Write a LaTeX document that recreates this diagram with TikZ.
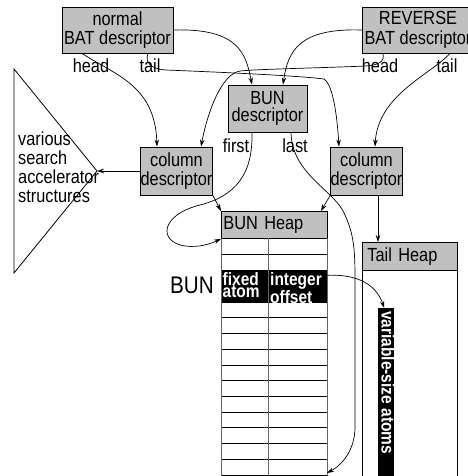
\documentclass[tikz,border=0pt]{standalone}
\usepackage{fontspec}
\setmainfont{Liberation Sans}[FakeStretch=0.86]
\usetikzlibrary{arrows.meta,calc}
\definecolor{boxgray}{RGB}{192,192,192}
\definecolor{rulegray}{RGB}{100,100,100}
\tikzset{
  lbl/.style={font=\fontsize{19}{19.5}\selectfont, inner sep=0pt},
  descbox/.style={draw, fill=boxgray, line width=0.9pt, inner sep=0pt,
    align=center, font=\fontsize{19}{19.5}\selectfont},
  heaphdr/.style={draw, fill=boxgray, line width=0.9pt, inner ysep=0pt,
    align=left, anchor=north west, font=\fontsize{19}{19.5}\selectfont},
  link/.style={line width=0.7pt, -{Stealth[length=7pt,width=4.5pt]}},
  rowline/.style={line width=0.8pt},
  colline/.style={line width=0.8pt, draw=rulegray},
  celltext/.style={text=white, font=\bfseries\fontsize{18}{12.5}\selectfont,
    align=left, inner sep=0pt, anchor=north west},
}
\begin{document}
\begin{tikzpicture}[x=1pt,y=-1pt]
\useasboundingbox (0,0) rectangle (467,476);

% descriptors
\node[descbox, minimum width=111pt, minimum height=46pt] (nbat) at (117.5,30) {normal\\BAT descriptor};
\node[descbox, minimum width=111pt, minimum height=46pt] (rbat) at (418,30) {REVERSE\\BAT descriptor};
\node[descbox, minimum width=79pt, minimum height=47pt, font=\fontsize{19}{17}\selectfont] (bund) at (267.5,108.5) {BUN\\descriptor};
\node[descbox, minimum width=71pt, minimum height=48pt] (coll) at (176.5,171) {column\\descriptor};
\node[descbox, minimum width=71pt, minimum height=48pt] (colr) at (366.5,171) {column\\descriptor};

% head / tail / first / last labels
\node[lbl, anchor=base] (nhead) at (91,73) {head};
\node[lbl, anchor=base] (ntail) at (150,73) {tail};
\node[lbl, anchor=base] (rhead) at (380,73) {head};
\node[lbl, anchor=base] (rtail) at (447,73) {tail};
\node[lbl, anchor=base] (lfirst) at (236,152) {first};
\node[lbl, anchor=base] (llast) at (295,152) {last};

% search accelerator triangle
\coordinate (apex) at (97,171);
\draw[line width=0.8pt] (14,69) -- (apex) -- (14,273) -- cycle;
\node[lbl, anchor=north west, align=left, font=\fontsize{19}{18.7}\selectfont] (accel) at (18,132)
  {various\\search\\accelerator\\structures};

% BUN heap
\node[heaphdr, inner xsep=2pt, text width=102pt, minimum height=27pt] (bunhdr) at (221,211) {BUN Heap};
\node[fill=black, inner sep=0pt, minimum width=106pt, minimum height=32pt, anchor=north west] (bunrow) at (221,270) {};
\foreach \yy in {254,270,302} \draw[rowline] (221,\yy) -- (327,\yy);
\foreach \k in {1,...,11} \draw[rowline] (221,{302+\k*15.73}) -- (327,{302+\k*15.73});
\foreach \xx in {221,268,327} \draw[colline] (\xx,238) -- (\xx,480);
\node[celltext] (fixed) at (222.5,272) {fixed\\atom};
\node[celltext] (offset) at (270,272) {integer\\offset};
\node[lbl, anchor=base east, font=\fontsize{24}{24}\selectfont] (bunlbl) at (214,293) {BUN};
\coordinate (heapend) at (327,473);

% tail heap
\node[heaphdr, inner xsep=5pt, text width=85pt, minimum height=28pt] (tailhdr) at (362,242) {Tail Heap};
\draw[line width=0.9pt] (362,270) -- (362,480) (457,270) -- (457,480);
\node[fill=black, inner sep=0pt, minimum width=16pt, minimum height=172pt, anchor=north west] (band) at (378,308) {};
\node[rotate=-90, anchor=base west, inner sep=0pt, text=white,
  font=\bfseries\fontsize{18}{18}\selectfont] (atoms) at (381.5,311) {variable-size atoms};

% connectors
\draw[link] (nbat.east) .. controls (240,28) and (246,55) .. ([xshift=-15.5pt]bund.north);
\draw[link] (rbat.west) .. controls (300,28) and (288,50) .. ([xshift=15.5pt]bund.north);
\draw[link] ([xshift=-35.5pt]nbat.south) .. controls (115,75) and (155,85) .. ([xshift=-19.5pt]coll.north);
\draw[link] ([xshift=30.5pt]nbat.south) .. controls (145,62) and (150,69) .. (166,70)
  .. controls (240,73) and (300,76) .. (324,79)
  .. controls (333,85) and (337,115) .. ([xshift=-27.5pt]colr.north);
\draw[link] ([xshift=-35pt]rbat.south) .. controls (385,62) and (378,65) .. (366,66)
  .. controls (320,68) and (260,69) .. (240,71)
  .. controls (222,74) and (208,110) .. ([xshift=24.5pt]coll.north);
\draw[link] ([xshift=32pt]rbat.south) .. controls (430,75) and (378,95) .. ([xshift=8.5pt]colr.north);
\draw[link] ([xshift=-15.5pt]bund.south) .. controls (253,175) and (235,196) .. (200,205)
  .. controls (160,215) and (158,242) .. (185,246)
  .. controls (200,248) and (212,243) .. (bunhdr.south west);
\draw[link] ([xshift=23.5pt]bund.south) .. controls (292,175) and (335,190) .. (345,215)
  .. controls (354,235) and (355,250) .. (355,280) -- (355,427)
  .. controls (355,450) and (342,465) .. (heapend);
\draw[link] (coll.west) -- (apex);
\draw[link] (coll.south east) -- (bunhdr.north west);
\draw[link] (colr.south west) -- ([xshift=-7pt]bunhdr.north east);
\draw[link] ([xshift=11.5pt]colr.south) -- ([xshift=11.5pt]colr.south |- tailhdr.north);
\draw[link] ([yshift=11pt]bunrow.east) .. controls (365,274) and (378,290) .. ([xshift=-2pt]band.north);
\end{tikzpicture}
\end{document}
